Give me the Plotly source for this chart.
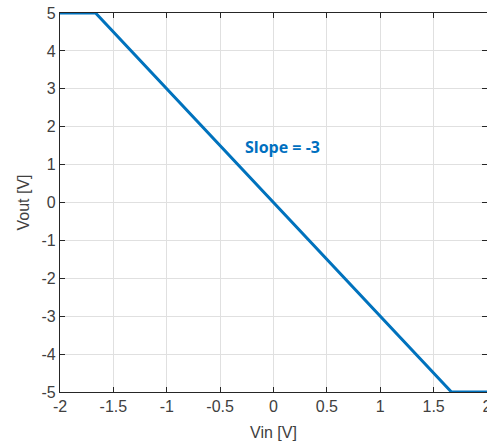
import plotly.graph_objects as go

vin = [-2, -5/3, 5/3, 2]
vout = [5, 5, -5, -5]
x_ticks = [-2, -1.5, -1, -0.5, 0, 0.5, 1, 1.5, 2]
x_tick_text = ["-2", "-1.5", "-1", "-0.5", "0", "0.5", "1", "1.5", "2"]
y_ticks = [-5, -4, -3, -2, -1, 0, 1, 2, 3, 4, 5]
y_tick_text = ["-5", "-4", "-3", "-2", "-1", "0", "1", "2", "3", "4", "5"]
annot_text = "Slope = -3"

fig = go.Figure()
fig.add_trace(go.Scatter(x=vin, y=vout, mode="lines",
                         line=dict(color="#0072BD", width=3), cliponaxis=False,
                         showlegend=False))
fig.add_annotation(x=0.08, y=1.46, text="<b>" + annot_text + "</b>", showarrow=False,
                   font=dict(family="Open Sans", size=16, color="#0070C0"))

axis_common = dict(showline=True, linecolor="#262626", linewidth=1.3, mirror="ticks",
                   ticks="inside", ticklen=5, tickcolor="#262626", automargin=False,
                   ticklabeloverflow="allow",
                   showgrid=True, gridcolor="#E0E0E0", gridwidth=1, zeroline=False,
                   tickfont=dict(family="Liberation Sans", size=16, color="#404040"))

fig.update_xaxes(range=[-2, 2], tickvals=x_ticks, ticktext=x_tick_text,
                 title=dict(text="Vin [V]", font=dict(family="Liberation Sans", size=16, color="#404040"), standoff=12),
                 **axis_common)
fig.update_yaxes(range=[-5, 5], tickvals=y_ticks, ticktext=y_tick_text,
                 title=dict(text="Vout [V]", font=dict(family="Liberation Sans", size=16, color="#404040"), standoff=7),
                 **axis_common)

fig.update_layout(width=487, height=446, plot_bgcolor="white", paper_bgcolor="white",
                  margin=dict(l=60, r=0, t=13, b=54))
fig.write_html("out.html", config={"displayModeBar": False},
               post_script="document.body.style.margin='0';document.body.style.overflow='hidden';")
